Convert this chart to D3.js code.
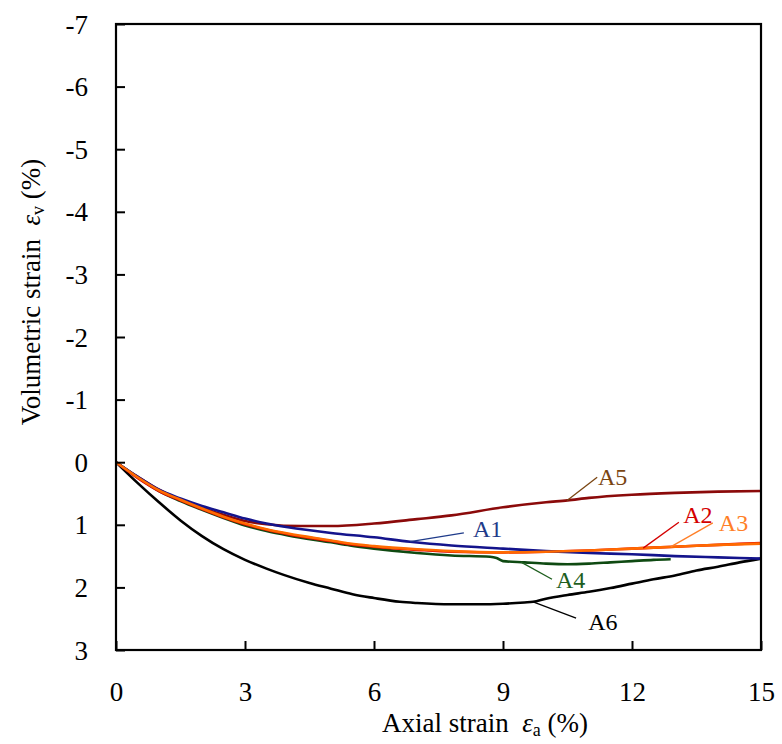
<!DOCTYPE html>
<html><head><meta charset="utf-8">
<script src="https://cdn.jsdelivr.net/npm/d3@7"></script>
<style>body{margin:0;background:#fff}svg{display:block}svg text{font-family:"Liberation Serif",Tinos,"Times New Roman",Times,"DejaVu Serif",serif !important}</style>
</head><body>
<script>
const xTicks = [0,3,6,9,12,15];
const yTicks = [-7,-6,-5,-4,-3,-2,-1,0,1,2,3];
const seriesNames = ["A1","A2","A3","A4","A5","A6"];
const A1 = [[0,0],[0.5,0.23],[1,0.44],[1.5,0.58],[2,0.7],[2.5,0.8],[3,0.9],[3.5,0.98],[4,1.04],[5,1.13],[6,1.2],[6.84,1.27],[7.8,1.33],[9,1.38],[10,1.42],[11,1.45],[12,1.47],[13,1.5],[14,1.52],[15,1.54]];
const A2 = [[0,0],[0.5,0.25],[1,0.46],[1.5,0.61],[2,0.75],[2.5,0.88],[3,0.99],[3.5,1.08],[4,1.15],[5,1.26],[5.44,1.31],[6,1.35],[7,1.4],[7.8,1.43],[9,1.44],[10,1.43],[11,1.41],[12,1.38],[13,1.35],[14,1.32],[15,1.29]];
const A3 = [[0,0],[0.5,0.24],[1,0.45],[1.5,0.6],[2,0.74],[2.5,0.87],[3,0.98],[3.5,1.07],[4,1.14],[5,1.25],[5.44,1.3],[6,1.34],[7,1.39],[7.8,1.42],[9,1.44],[10,1.43],[11,1.41],[12,1.38],[13,1.35],[14,1.32],[15,1.3]];
const A4 = [[0,0],[0.5,0.24],[1,0.46],[1.5,0.62],[2,0.76],[2.5,0.89],[3,1.01],[3.5,1.1],[4,1.17],[5,1.28],[5.44,1.33],[6,1.38],[7,1.45],[7.8,1.49],[8.7,1.51],[8.85,1.53],[9,1.58],[9.5,1.6],[10,1.62],[10.5,1.63],[11,1.62],[11.5,1.6],[12,1.58],[12.5,1.56],[12.9,1.55]];
const A5 = [[0,0],[0.5,0.23],[1,0.44],[1.5,0.6],[2,0.73],[2.5,0.84],[3,0.94],[3.5,0.99],[4.3,1.02],[5,1.02],[6,0.98],[7,0.91],[7.8,0.85],[9,0.72],[10,0.64],[10.5,0.61],[11,0.57],[12,0.52],[13,0.49],[14,0.47],[15,0.46]];
const A6 = [[0,0],[0.5,0.33],[1,0.64],[1.5,0.93],[2,1.18],[2.5,1.39],[3,1.56],[3.5,1.7],[3.9,1.8],[4.5,1.93],[5,2.02],[5.5,2.11],[6,2.17],[6.6,2.23],[7,2.25],[7.8,2.27],[8.5,2.27],[9,2.26],[9.5,2.24],[9.7,2.23],[10,2.18],[10.5,2.12],[11,2.07],[11.5,2.01],[12,1.94],[12.5,1.87],[13,1.81],[13.5,1.73],[14,1.67],[14.5,1.6],[15,1.54]];
const lineColors = ["#14148c","#e00000","#ff6a00","#0f4a12","#8b0a0a","#000000"];
const labelColors = ["#1f3b8a","#d40000","#ff7f27","#1e5e1e","#7a4512","#000000"];
// [curve x, leader end x, leader end y, text x, text baseline y] in data units
const labelAt = [[6.84,8.09,1.13,8.3,1.2],[12.26,13.09,0.96,13.19,0.97],[12.9,13.88,0.97,14.02,1.1],[9.42,10.14,1.87,10.23,2.01],[10.49,11.19,0.24,11.21,0.37],[9.7,10.7,2.49,10.98,2.68]];

const W=782,H=744, L=116,R=761,T=24,B=650;
const svg=d3.select("body").append("svg").attr("width",W).attr("height",H);
const x=d3.scaleLinear().domain([0,15]).range([L,R]);
const y=d3.scaleLinear().domain([-7,3]).range([T,B]);
const data=[A1,A2,A3,A4,A5,A6];
const line=d3.line().x(d=>x(d[0])).y(d=>y(d[1])).curve(d3.curveMonotoneX);
const order=[5,4,3,1,0,2];
const g=svg.append("g");
order.forEach(i=>{
  g.append("path").datum(data[i]).attr("d",line).attr("fill","none")
   .attr("stroke",lineColors[i]).attr("stroke-width",2.6).attr("stroke-linejoin","round");
});
function interp(arr,xv){for(let k=1;k<arr.length;k++){if(arr[k][0]>=xv){const a=arr[k-1],b=arr[k];const t=(xv-a[0])/(b[0]-a[0]);return a[1]+t*(b[1]-a[1]);}}return arr[arr.length-1][1];}
seriesNames.forEach((n,i)=>{
  const [px,ex,ey,tx,ty]=labelAt[i];
  const py=interp(data[i],px);
  g.append("line").attr("x1",x(px)).attr("y1",y(py)).attr("x2",x(ex)).attr("y2",y(ey))
   .attr("stroke",labelColors[i]).attr("stroke-width",1.3);
  g.append("text").attr("x",x(tx)).attr("y",y(ty)).attr("font-size",24).attr("fill",labelColors[i]).text(n);
});
svg.append("rect").attr("x",L).attr("y",T).attr("width",R-L).attr("height",B-T).attr("fill","none").attr("stroke","#000").attr("stroke-width",2.2);
const xa=svg.append("g").attr("transform",`translate(0,${B})`).call(d3.axisBottom(x).tickValues(xTicks).tickSize(-9).tickFormat(d3.format("d")));
const ya=svg.append("g").attr("transform",`translate(${L},0)`).call(d3.axisLeft(y).tickValues(yTicks).tickSize(-9).tickFormat(d3.format("d")));
[xa,ya].forEach(a=>{a.attr("font-family",null);a.select(".domain").remove();a.selectAll("line").attr("stroke","#000").attr("stroke-width",2);
  a.selectAll("text").attr("font-size",27).attr("fill","#000");});
xa.selectAll(".tick text").attr("y",51).attr("dy",0);
ya.selectAll(".tick text").attr("x",-28).attr("dy","0.34em").text(d=>d<0?"-"+Math.abs(d):d);
const xt=svg.append("text").attr("x",485).attr("y",732).attr("text-anchor","middle").attr("font-size",27).style("white-space","pre");
xt.append("tspan").text("Axial strain  ");
xt.append("tspan").attr("font-style","italic").text("ε");
xt.append("tspan").attr("font-size",18).attr("dy",4).text("a");
xt.append("tspan").attr("dy",-4).text(" (%)");
const yt=svg.append("text").attr("transform","translate(40,292) rotate(-90)").attr("text-anchor","middle").attr("font-size",27).style("white-space","pre");
yt.append("tspan").text("Volumetric strain  ");
yt.append("tspan").attr("font-style","italic").text("ε");
yt.append("tspan").attr("font-size",18).attr("dy",4).text("v");
yt.append("tspan").attr("dy",-4).text(" (%)");
</script>
</body></html>
